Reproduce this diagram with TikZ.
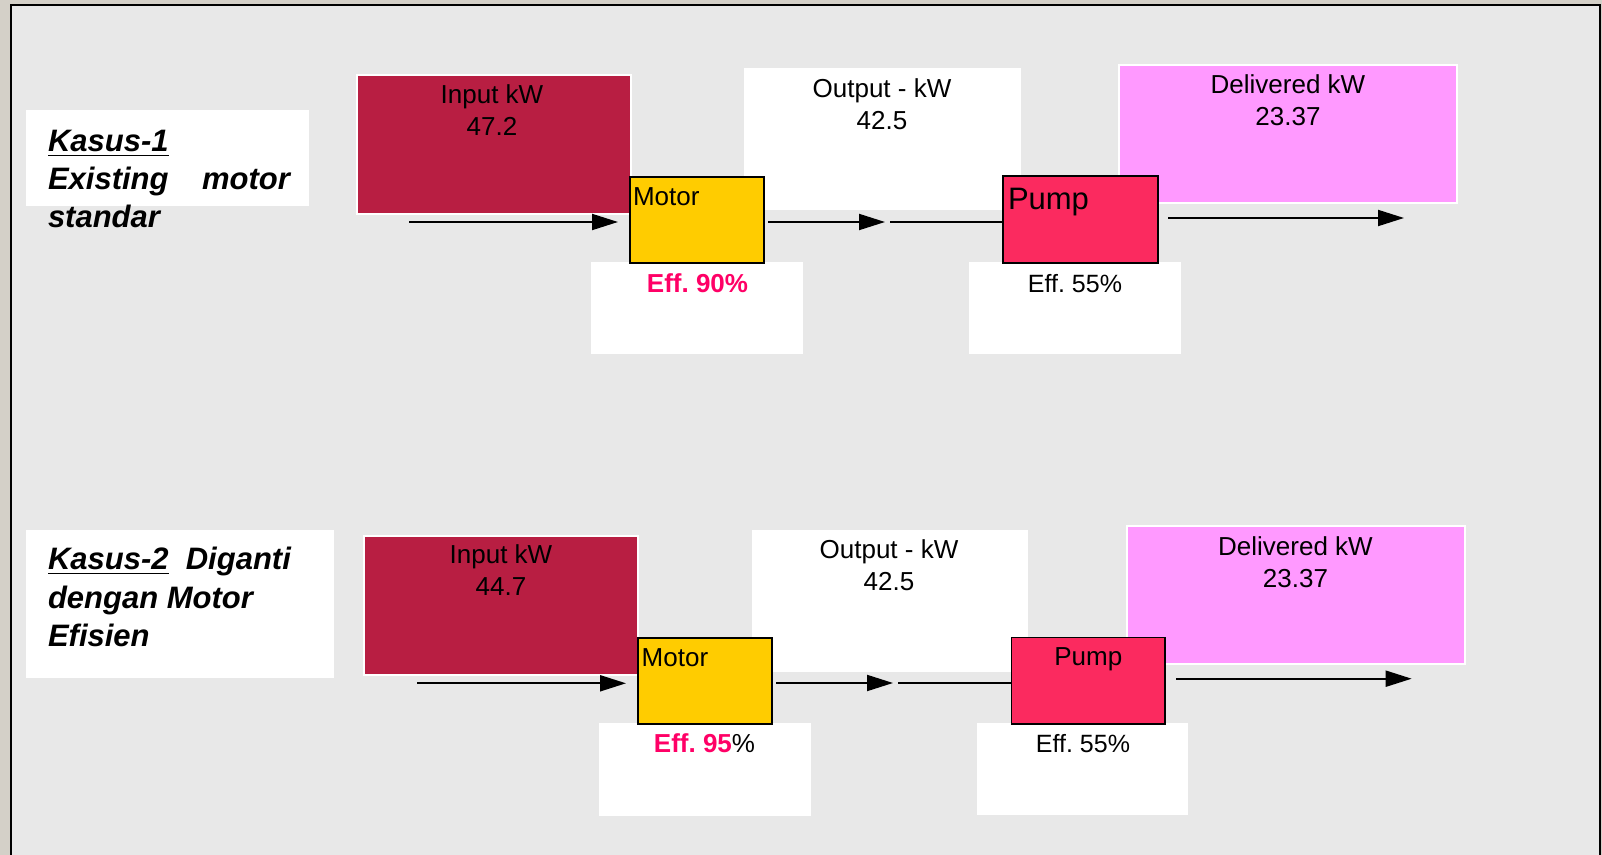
\documentclass[tikz,border=0pt]{standalone}
\usepackage{fontspec}
\setmainfont{Liberation Sans}
\usetikzlibrary{arrows.meta,calc}
\definecolor{outergray}{HTML}{D4D0C8}
\definecolor{bggray}{HTML}{E8E8E8}
\definecolor{inred}{HTML}{B81E42}
\definecolor{pumpred}{HTML}{FB2A5F}
\definecolor{delpink}{HTML}{FF99FF}
\definecolor{motyellow}{HTML}{FFCC00}
\definecolor{effred}{HTML}{FF0066}
\frenchspacing
\tikzset{
  bx/.style={rectangle, inner sep=0pt, outer sep=0pt, anchor=north west},
  whitebox/.style={bx, fill=white},
  inbox/.style={bx, fill=inred, draw=white, line width=0.75pt},
  delbox/.style={bx, fill=delpink, draw=white, line width=0.75pt},
  motbox/.style={bx, fill=motyellow, draw=black, line width=0.7pt},
  pumpbox/.style={bx, fill=pumpred, draw=black, line width=0.7pt},
  txt/.style={inner sep=0pt, outer sep=0pt, font=\fontsize{13}{16}\selectfont},
  kas/.style={inner sep=0pt, outer sep=0pt, anchor=base west, font=\fontsize{15.5}{19}\selectfont\bfseries\itshape},
  arr/.style={line width=1pt, -{Triangle[length=13pt,width=8pt]}},
  thinline/.style={line width=0.65pt}
}
\newcommand{\twoline}[2]{\begin{tabular}[t]{@{}c@{}}#1\\#2\end{tabular}}
\begin{document}
\begin{tikzpicture}[x=0.5pt,y=-0.5pt]
\useasboundingbox (0,0) rectangle (1602,855);
\clip (0,0) rectangle (1602,855);
\fill[outergray] (0,0) rectangle (1602,855);
\draw[fill=bggray, line width=1pt] (10.5,5) rectangle (1600,880);

% ---------- Row 1 ----------
\node[whitebox, minimum width=141.5pt, minimum height=48pt] (kas1) at (26,110) {};
\node[kas] (kas1t) at (48,152) {\vtop{\baselineskip=19pt
  \hbox{\underline{Kasus-1}}
  \hbox to 121pt{Existing\hfill motor}
  \hbox{standar}}};

\node[inbox, minimum width=137pt, minimum height=69.5pt] (in1) at (357,75) {};
\node[whitebox, minimum width=138.5pt, minimum height=70.75pt] (out1) at (744,68.5) {};
\node[delbox, minimum width=169pt, minimum height=69pt] (del1) at (1119,65) {};
\node[whitebox, minimum width=106pt, minimum height=46pt] (eff1) at (591,262) {};
\node[whitebox, minimum width=106pt, minimum height=46pt] (effp1) at (969,262) {};
\node[motbox, minimum width=67pt, minimum height=43pt] (mot1) at (630,177) {};
\node[pumpbox, minimum width=77.5pt, minimum height=43.5pt] (pump1) at (1003,176) {};

\node[txt, anchor=base] (in1t) at (492,103.3) {\twoline{Input kW}{47.2}};
\node[txt, anchor=base] (out1t) at (882,97.7) {\twoline{Output - kW}{42.5}};
\node[txt, anchor=base] (del1t) at (1288,94) {\twoline{Delivered kW}{23.37}};
\node[txt, anchor=base west] (mot1t) at (633,205.7) {Motor};
\node[txt, anchor=base west, font=\fontsize{15.5}{18}\selectfont] (pump1t) at (1008,210) {Pump};
\node[txt, anchor=base, font=\fontsize{13}{15.5}\selectfont\bfseries, text=effred] (eff1t) at (697.5,292.3) {Eff. 90\%};
\node[txt, anchor=base, font=\fontsize{12.5}{15}\selectfont] (effp1t) at (1075,292.3) {Eff. 55\%};

\coordinate (a1s) at (409,222);
\coordinate (a2e) at (885,222);
\coordinate (l3s) at (890,222);
\coordinate (a4e) at (1404,218);
\draw[arr, shorten >=6pt] (a1s) -- (a1s -| mot1.west);
\draw[arr, shorten <=2pt] (mot1.east |- a2e) -- (a2e);
\draw[thinline] (l3s) -- (l3s -| pump1.west);
\draw[arr, shorten <=5pt] (pump1.east |- a4e) -- (a4e);

% ---------- Row 2 ----------
\node[whitebox, minimum width=154pt, minimum height=74pt] (kas2) at (26,530) {};
\node[kas] (kas2t) at (48,570) {\vtop{\baselineskip=19.25pt
  \hbox{\underline{Kasus-2}\ \ Diganti}
  \hbox{dengan Motor}
  \hbox{Efisien}}};

\node[inbox, minimum width=137pt, minimum height=69.5pt] (in2) at (364,536) {};
\node[whitebox, minimum width=138pt, minimum height=70.75pt] (out2) at (752,530) {};
\node[delbox, minimum width=169pt, minimum height=69pt] (del2) at (1127,526) {};
\node[whitebox, minimum width=106pt, minimum height=46.5pt] (eff2) at (599,723) {};
\node[whitebox, minimum width=105.5pt, minimum height=46pt] (effp2) at (977,723) {};
\node[motbox, minimum width=67pt, minimum height=43pt] (mot2) at (638,638) {};
\node[pumpbox, minimum width=76.7pt, minimum height=43.2pt] (pump2) at (1011.7,637.7) {};

\node[txt, anchor=base] (in2t) at (501,563.3) {\twoline{Input kW}{44.7}};
\node[txt, anchor=base] (out2t) at (889,558.3) {\twoline{Output - kW}{42.5}};
\node[txt, anchor=base] (del2t) at (1295.5,556) {\twoline{Delivered kW}{23.37}};
\node[txt, anchor=base west] (mot2t) at (641.7,666.7) {Motor};
\node[txt, anchor=base] (pump2t) at (1088.3,665) {Pump};
\node[txt, anchor=base] (eff2t) at (704.5,752.3) {\textbf{\textcolor{effred}{Eff. 95}}\%};
\node[txt, anchor=base, font=\fontsize{12.5}{15}\selectfont] (effp2t) at (1083,752.3) {Eff. 55\%};

\coordinate (b1s) at (417,683.3);
\coordinate (b2e) at (893,683);
\coordinate (b3s) at (898,683);
\coordinate (b4e) at (1411.7,678.7);
\draw[arr, shorten >=6pt] (b1s) -- (b1s -| mot2.west);
\draw[arr, shorten <=2pt] (mot2.east |- b2e) -- (b2e);
\draw[thinline] (b3s) -- (b3s -| pump2.west);
\draw[arr, shorten <=5.5pt] (pump2.east |- b4e) -- (b4e);
\end{tikzpicture}
\end{document}
